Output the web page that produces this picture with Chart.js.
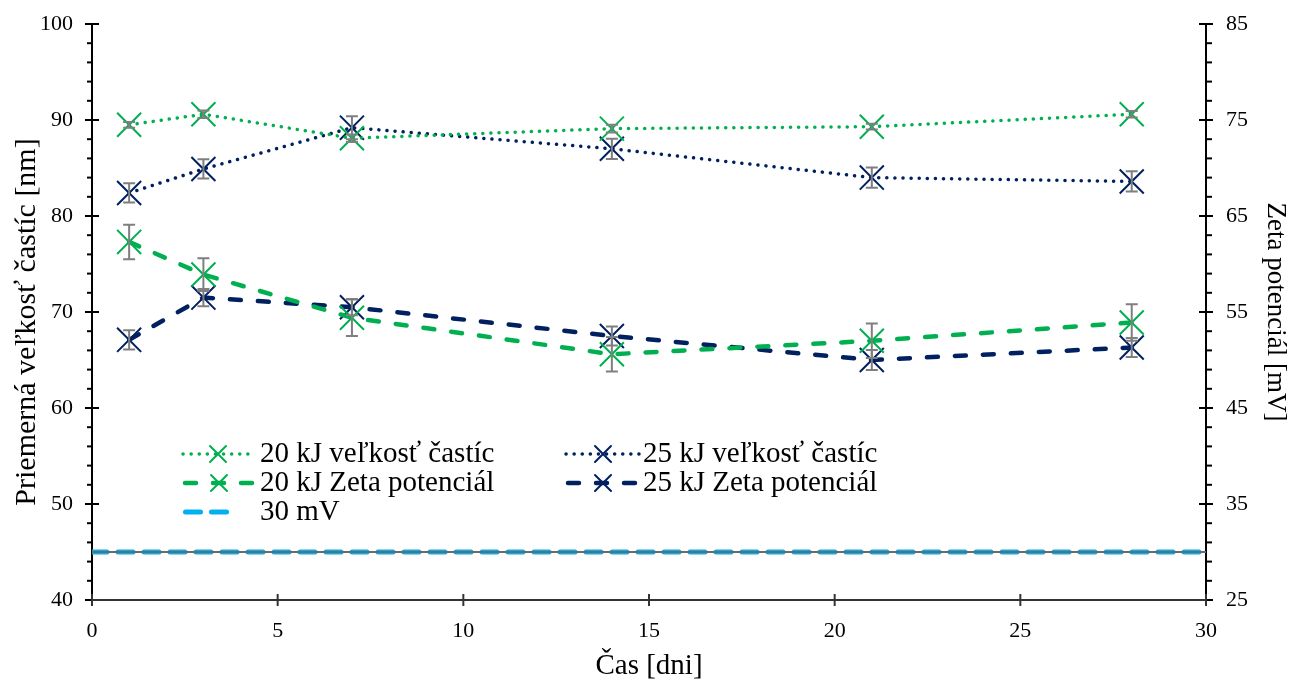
<!DOCTYPE html>
<html>
<head>
<meta charset="utf-8">
<script src="https://cdn.jsdelivr.net/npm/chart.js@4"></script>
<style>
  body { margin: 0; background: #fff; }
  canvas { display: block; }
</style>
</head>
<body>
<canvas id="graf" width="1295" height="682"></canvas>
<script>
// Dni merania
const dni = [1, 3, 7, 14, 21, 28];

// Priemerná veľkosť častíc [nm] (ľavá os) a smerodajné odchýlky
const velkost20 = [89.5, 90.6, 88.1, 89.1, 89.3, 90.6];
const velkost20Chyba = [0.3, 0.4, 0.4, 0.4, 0.3, 0.35];
const velkost25 = [82.4, 84.9, 89.2, 87.0, 84.0, 83.6];
const velkost25Chyba = [1.0, 1.0, 1.2, 1.05, 1.05, 1.05];

// Zeta potenciál [mV] (pravá os)
const zeta20 = [62.3, 58.9, 54.4, 50.6, 52.0, 53.9];
const zeta20Chyba = [1.8, 1.7, 1.9, 1.8, 1.8, 1.9];
const zeta25 = [52.1, 56.5, 55.5, 52.5, 50.0, 51.3];
const zeta25Chyba = [1.0, 0.9, 0.85, 1.0, 1.05, 1.0];

// Hranica stability
const hranicaMv = 30;
const hranicaX = [0, 30];

const ZELENA = '#00B050';
const MODRA = '#002060';
const SVETLOMODRA = '#00B0F0';
const SIVA = '#7F7F7F';
const PISMO = '"Liberation Serif", "Times New Roman", serif';

function body(xs, ys) {
  return xs.map((x, i) => ({ x: x, y: ys[i] }));
}

// Osi s hlavnými a vedľajšími značkami
const osiPlugin = {
  id: 'osi',
  beforeDatasetsDraw(chart) {
    const ctx = chart.ctx;
    const { left, right, top, bottom } = chart.chartArea;
    const sx = chart.scales.x, sl = chart.scales.y, sr = chart.scales.y2;
    const ciara = (x1, y1, x2, y2) => {
      ctx.beginPath(); ctx.moveTo(x1, y1); ctx.lineTo(x2, y2); ctx.stroke();
    };
    ctx.save();
    ctx.strokeStyle = '#000';
    ctx.lineWidth = 2;
    ciara(left, top, left, bottom);
    ciara(right, top, right, bottom);
    for (let v = 40; v <= 100; v += 2) {
      const py = sl.getPixelForValue(v);
      if (v % 10 === 0) ciara(left - 7, py, left + 7, py);
      else ciara(left - 5, py, left, py);
    }
    for (let v = 25; v <= 85; v += 2) {
      const py = sr.getPixelForValue(v);
      if ((v - 25) % 10 === 0) ciara(right - 7, py, right + 7, py);
      else ciara(right, py, right + 6, py);
    }
    ctx.strokeStyle = '#333';
    ciara(left, bottom, right, bottom);
    for (let v = 0; v <= 30; v += 5) {
      const px = sx.getPixelForValue(v);
      ciara(px, bottom - 6, px, bottom + 6);
    }
    ctx.restore();
  }
};

// Chybové úsečky
const chybyPlugin = {
  id: 'chyby',
  afterDatasetsDraw(chart) {
    const ctx = chart.ctx;
    ctx.save();
    ctx.strokeStyle = SIVA;
    ctx.lineWidth = 2;
    chart.data.datasets.forEach((ds, i) => {
      if (!ds.chyby) return;
      const os = chart.scales[ds.yAxisID];
      const meta = chart.getDatasetMeta(i);
      meta.data.forEach((bod, j) => {
        const y = ds.data[j].y;
        const h = os.getPixelForValue(y + ds.chyby[j]);
        const d = os.getPixelForValue(y - ds.chyby[j]);
        ctx.beginPath();
        ctx.moveTo(bod.x, h); ctx.lineTo(bod.x, d);
        ctx.moveTo(bod.x - 6, h); ctx.lineTo(bod.x + 6, h);
        ctx.moveTo(bod.x - 6, d); ctx.lineTo(bod.x + 6, d);
        ctx.stroke();
      });
    });
    ctx.restore();
  }
};

// Názov ľavej osi (trochu nižšie ako stred osi)
const nazovOsiPlugin = {
  id: 'nazovOsi',
  afterDraw(chart) {
    const ctx = chart.ctx;
    ctx.save();
    ctx.translate(27, 322);
    ctx.rotate(-Math.PI / 2);
    ctx.fillStyle = '#000';
    ctx.font = '30px ' + PISMO;
    ctx.textAlign = 'center';
    ctx.textBaseline = 'middle';
    ctx.fillText('Priemerná veľkosť častíc [nm]', 0, 0);
    ctx.restore();
  }
};

// Legenda vo vnútri grafu
const legendaRozlozenie = [
  { ds: 0, x: 183, y: 454, dlzka: 70, text: 260 },
  { ds: 1, x: 566, y: 454, dlzka: 74, text: 643 },
  { ds: 2, x: 185, y: 483, dlzka: 68, text: 260 },
  { ds: 3, x: 568, y: 483, dlzka: 70, text: 643 },
  { ds: 5, x: 185.5, y: 512, dlzka: 52, text: 260 }
];

const legendaPlugin = {
  id: 'legenda',
  afterDraw(chart) {
    const ctx = chart.ctx;
    ctx.save();
    legendaRozlozenie.forEach(p => {
      const ds = chart.data.datasets[p.ds];
      ctx.strokeStyle = ds.borderColor;
      ctx.lineWidth = ds.borderWidth;
      ctx.lineCap = 'round';
      ctx.setLineDash(ds.borderDash || []);
      ctx.beginPath();
      ctx.moveTo(p.x, p.y);
      ctx.lineTo(p.x + p.dlzka, p.y);
      ctx.stroke();
      ctx.setLineDash([]);
      if (ds.pointRadius > 0) {
        const cx = p.x + p.dlzka / 2, r = 8;
        ctx.lineWidth = 2;
        ctx.beginPath();
        ctx.moveTo(cx - r, p.y - r); ctx.lineTo(cx + r, p.y + r);
        ctx.moveTo(cx - r, p.y + r); ctx.lineTo(cx + r, p.y - r);
        ctx.stroke();
      }
      ctx.fillStyle = '#000';
      ctx.font = '29px ' + PISMO;
      ctx.textBaseline = 'middle';
      ctx.fillText(ds.label, p.text, p.y);
    });
    ctx.restore();
  }
};

// Pevné rozmery osí, bez extra okraja nad grafom
function pevnaSirka(w) {
  return s => { s.width = w; s.paddingTop = 0; s.paddingBottom = 0; };
}

const ctx = document.getElementById('graf').getContext('2d');

new Chart(ctx, {
  type: 'line',
  data: {
    datasets: [
      {
        label: '20 kJ veľkosť častíc',
        data: body(dni, velkost20),
        chyby: velkost20Chyba,
        yAxisID: 'y',
        borderColor: ZELENA,
        borderWidth: 3.5,
        borderDash: [0.1, 8],
        borderCapStyle: 'round',
        pointStyle: 'crossRot',
        pointRadius: 17,
        pointBorderWidth: 2,
        pointBorderColor: ZELENA
      },
      {
        label: '25 kJ veľkosť častíc',
        data: body(dni, velkost25),
        chyby: velkost25Chyba,
        yAxisID: 'y',
        borderColor: MODRA,
        borderWidth: 3.5,
        borderDash: [0.1, 8],
        borderCapStyle: 'round',
        pointStyle: 'crossRot',
        pointRadius: 17,
        pointBorderWidth: 2,
        pointBorderColor: MODRA
      },
      {
        label: '20 kJ Zeta potenciál',
        data: body(dni, zeta20),
        chyby: zeta20Chyba,
        yAxisID: 'y2',
        borderColor: ZELENA,
        borderWidth: 4.5,
        borderDash: [11, 17],
        borderCapStyle: 'round',
        pointStyle: 'crossRot',
        pointRadius: 17,
        pointBorderWidth: 2,
        pointBorderColor: ZELENA
      },
      {
        label: '25 kJ Zeta potenciál',
        data: body(dni, zeta25),
        chyby: zeta25Chyba,
        yAxisID: 'y2',
        borderColor: MODRA,
        borderWidth: 4.5,
        borderDash: [11, 17],
        borderCapStyle: 'round',
        pointStyle: 'crossRot',
        pointRadius: 17,
        pointBorderWidth: 2,
        pointBorderColor: MODRA
      },
      {
        label: '',
        data: hranicaX.map(x => ({ x: x, y: hranicaMv })),
        yAxisID: 'y2',
        borderColor: '#6A6A6A',
        borderWidth: 2,
        pointRadius: 0
      },
      {
        label: '30 mV',
        data: hranicaX.map(x => ({ x: x, y: hranicaMv })),
        yAxisID: 'y2',
        borderColor: SVETLOMODRA,
        borderWidth: 5,
        borderDash: [15, 11],
        borderCapStyle: 'round',
        pointRadius: 0
      }
    ]
  },
  options: {
    responsive: false,
    animation: false,
    devicePixelRatio: 1,
    layout: { padding: { top: 24, left: 0, right: 0, bottom: 0 } },
    plugins: {
      legend: { display: false },
      tooltip: { enabled: false }
    },
    scales: {
      x: {
        type: 'linear',
        min: 0,
        max: 30,
        afterFit: s => { s.height = 82; },
        grid: { display: false, drawTicks: false },
        border: { display: false },
        ticks: { stepSize: 5, color: '#000', padding: 18, font: { family: PISMO, size: 22 } },
        title: { display: true, text: 'Čas [dni]', color: '#000', padding: { top: 0, bottom: 1.5 }, font: { family: PISMO, size: 29, lineHeight: 1 } }
      },
      y: {
        position: 'left',
        min: 40,
        max: 100,
        afterFit: pevnaSirka(92),
        grid: { display: false, drawTicks: false },
        border: { display: false },
        ticks: { stepSize: 10, color: '#000', padding: 19, font: { family: PISMO, size: 22 } }
      },
      y2: {
        position: 'right',
        min: 25,
        max: 85,
        afterFit: pevnaSirka(89),
        grid: { display: false, drawTicks: false },
        border: { display: false },
        ticks: { stepSize: 10, color: '#000', padding: 20, font: { family: PISMO, size: 22 } },
        title: { display: true, text: 'Zeta potenciál [mV]', color: '#000', padding: { top: 6.5, bottom: 0 }, font: { family: PISMO, size: 27, lineHeight: 1 } }
      }
    }
  },
  plugins: [osiPlugin, chybyPlugin, nazovOsiPlugin, legendaPlugin]
});
</script>
</body>
</html>
